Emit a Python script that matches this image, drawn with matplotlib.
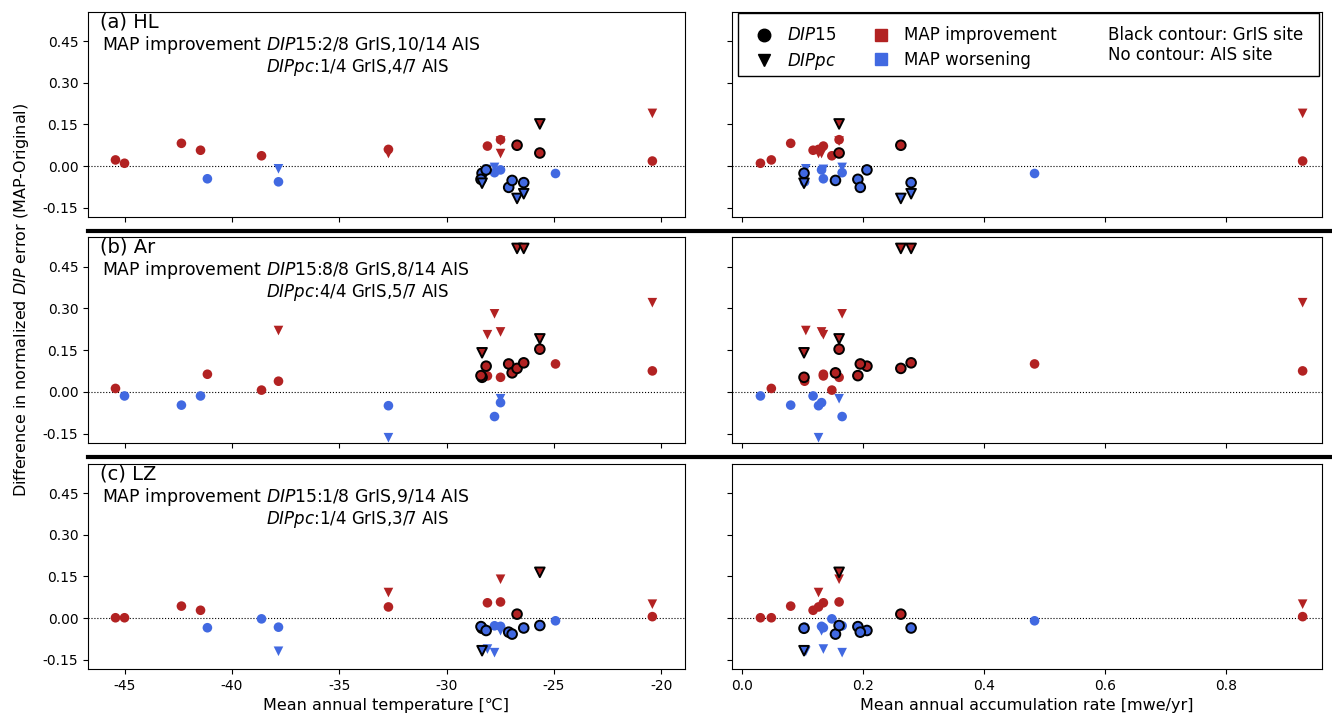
import numpy as np
import matplotlib
matplotlib.use("Agg")
import matplotlib.pyplot as plt
from matplotlib.lines import Line2D
from matplotlib.patches import Rectangle

# ---------------- data ----------------
# GrIS sites (8) : temperature [degC], accumulation [mwe/yr]
gris_T = [-28.35, -28.40, -28.16, -27.11, -26.95, -26.72, -26.41, -25.66]
gris_A = [0.102, 0.191, 0.206, 0.195, 0.154, 0.262, 0.279, 0.160]
gris_dip15_HL = [-0.026, -0.048, -0.014, -0.077, -0.052, 0.075, -0.060, 0.047]
gris_dip15_Ar = [0.052, 0.058, 0.092, 0.100, 0.068, 0.084, 0.104, 0.153]
gris_dip15_LZ = [-0.037, -0.031, -0.045, -0.051, -0.058, 0.014, -0.036, -0.027]

# GrIS sites with DIPpc (4)
grispc_T = [-28.35, -26.72, -26.41, -25.66]
grispc_A = [0.102, 0.262, 0.279, 0.160]
grispc_HL = [-0.062, -0.117, -0.100, 0.152]
grispc_Ar = [0.140, 0.515, 0.515, 0.190]
grispc_LZ = [-0.118, -0.250, -0.250, 0.165]

# AIS sites (14)
ais_T = [-45.42, -45.00, -42.35, -41.46, -41.14, -38.62, -37.83, -32.71,
         -28.10, -27.49, -27.77, -27.49, -24.93, -20.42]
ais_A = [0.048, 0.030, 0.080, 0.117, 0.134, 0.148, 0.103, 0.126,
         0.134, 0.160, 0.165, 0.131, 0.483, 0.926]
ais_dip15_HL = [0.022, 0.010, 0.082, 0.057, -0.046, 0.037, -0.057, 0.060,
                0.072, 0.095, -0.024, -0.014, -0.027, 0.018]
ais_dip15_Ar = [0.012, -0.015, -0.048, -0.015, 0.063, 0.006, 0.038, -0.050,
                0.057, 0.052, -0.089, -0.039, 0.100, 0.075]
ais_dip15_LZ = [0.001, 0.001, 0.043, 0.028, -0.035, -0.003, -0.033, 0.040,
                0.055, 0.058, -0.028, -0.030, -0.010, 0.005]

# AIS sites with DIPpc (7)
aispc_T = [-37.83, -32.71, -28.10, -27.77, -27.49, -27.49, -20.42]
aispc_A = [0.105, 0.126, 0.134, 0.165, 0.131, 0.160, 0.926]
aispc_HL = [-0.010, 0.045, -0.012, -0.005, 0.045, 0.090, 0.190]
aispc_Ar = [0.220, -0.165, 0.205, 0.280, 0.215, -0.025, 0.320]
aispc_LZ = [-0.120, 0.092, -0.112, -0.125, -0.046, 0.140, 0.050]

row_titles = ["(a) HL", "(b) Ar", "(c) LZ"]
row_counts15 = ["2/8 GrIS,10/14 AIS", "8/8 GrIS,8/14 AIS", "1/8 GrIS,9/14 AIS"]
row_countspc = ["1/4 GrIS,4/7 AIS", "4/4 GrIS,5/7 AIS", "1/4 GrIS,3/7 AIS"]

yticks = [-0.15, 0.0, 0.15, 0.30, 0.45]
T_ticks = [-45, -40, -35, -30, -25, -20]
A_ticks = [0.0, 0.2, 0.4, 0.6, 0.8]

RED = "#b22222"
BLUE = "#4169e1"

gris15 = [gris_dip15_HL, gris_dip15_Ar, gris_dip15_LZ]
ais15 = [ais_dip15_HL, ais_dip15_Ar, ais_dip15_LZ]
grispc = [grispc_HL, grispc_Ar, grispc_LZ]
aispc = [aispc_HL, aispc_Ar, aispc_LZ]


def cols(vals):
    return [RED if v > 0 else BLUE for v in vals]


W, H = 1332, 715
fig = plt.figure(figsize=(W / 100, H / 100), dpi=100)

left_x0, left_x1 = 88, 685
right_x0, right_x1 = 732, 1322
rows_px = [(12, 217), (237, 443), (464, 669)]

S = 48
for r in range(3):
    top, bot = rows_px[r]
    axL = fig.add_axes([left_x0 / W, 1 - bot / H, (left_x1 - left_x0) / W, (bot - top) / H])
    axR = fig.add_axes([right_x0 / W, 1 - bot / H, (right_x1 - right_x0) / W, (bot - top) / H])
    for ax, xg, xa, xgp, xap in [(axL, gris_T, ais_T, grispc_T, aispc_T),
                                  (axR, gris_A, ais_A, grispc_A, aispc_A)]:
        ax.axhline(0, color="k", ls=":", lw=0.8, zorder=1)
        ax.scatter(xa, ais15[r], c=cols(ais15[r]), marker="o", s=S, edgecolors="none", zorder=3)
        ax.scatter(xap, aispc[r], c=cols(aispc[r]), marker="v", s=S, edgecolors="none", zorder=3)
        ax.scatter(xg, gris15[r], c=cols(gris15[r]), marker="o", s=S, edgecolors="k",
                   linewidths=1.4, zorder=4)
        ax.scatter(xgp, grispc[r], c=cols(grispc[r]), marker="v", s=S, edgecolors="k",
                   linewidths=1.4, zorder=4)
        ax.set_ylim(-0.184, 0.556)
        ax.set_yticks(yticks)
        ax.tick_params(labelsize=10)
    axL.set_xlim(-46.7, -18.9)
    axR.set_xlim(-0.017, 0.958)
    axL.set_xticks(T_ticks)
    axR.set_xticks(A_ticks)
    axL.set_yticklabels(["%.2f" % v for v in yticks])
    axR.set_yticklabels([])
    if r < 2:
        axL.set_xticklabels([])
        axR.set_xticklabels([])
    else:
        axL.set_xlabel("Mean annual temperature [℃]", fontsize=11.5)
        axR.set_xlabel("Mean annual accumulation rate [mwe/yr]", fontsize=11.5)
        axL.set_xticklabels([str(t) for t in T_ticks])
        axR.set_xticklabels(["%.1f" % t for t in A_ticks])

    axL.text(0.02, 0.95, row_titles[r], transform=axL.transAxes, fontsize=14,
             ha="left", va="center")
    axL.text(0.023, 0.84, r"MAP improvement $\it{DIP}$15:" + row_counts15[r],
             transform=axL.transAxes, fontsize=12.4, ha="left", va="center")
    axL.text(0.298, 0.73, r"$\it{DIPpc}$:" + row_countspc[r],
             transform=axL.transAxes, fontsize=12, ha="left", va="center")

    if r == 0:
        # legend
        handles = [Line2D([], [], marker="o", color="k", ls="none", markersize=9),
                   Line2D([], [], marker="v", color="k", ls="none", markersize=9),
                   Line2D([], [], marker="s", color=RED, ls="none", markersize=9),
                   Line2D([], [], marker="s", color=BLUE, ls="none", markersize=9)]
        labels = [r"$\it{DIP}$15", r"$\it{DIPpc}$", "MAP improvement", "MAP worsening"]
        axR.add_patch(Rectangle((0.011, 0.688), 0.984, 0.307, transform=axR.transAxes,
                                facecolor="white", edgecolor="k", lw=1.0, zorder=5))
        leg = axR.legend(handles, labels, ncol=2, loc="upper left",
                         bbox_to_anchor=(0.015, 0.995), frameon=False, fontsize=12,
                         handlelength=1.2, handletextpad=0.75, columnspacing=2.1,
                         labelspacing=0.4, borderpad=0.3)
        leg.set_zorder(6)
        axR.text(0.637, 0.84, "Black contour: GrIS site\nNo contour: AIS site",
                 transform=axR.transAxes, fontsize=12, ha="left", va="center",
                 linespacing=1.15, zorder=7)

fig.text(0.016, 1 - 300 / H, r"Difference in normalized $\it{DIP}$ error (MAP-Original)",
         rotation=90, fontsize=11.5, ha="center", va="center")

for ypx in (231, 457):
    fig.add_artist(Line2D([left_x0 / W, 1.0], [1 - ypx / H] * 2, color="k", lw=3,
                          transform=fig.transFigure))

fig.savefig("out.png", dpi=100)
